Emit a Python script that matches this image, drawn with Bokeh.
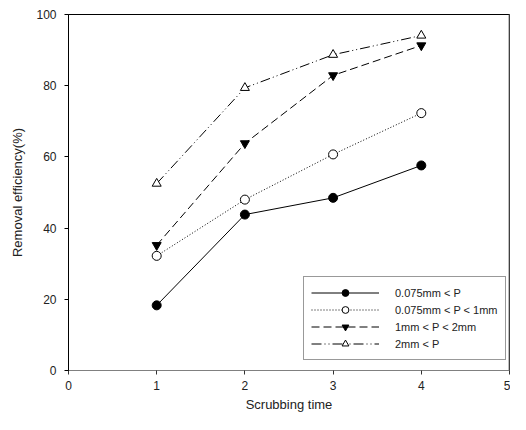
from bokeh.plotting import figure
from bokeh.models import Range1d, Span, Legend, LegendItem, FixedTicker
from bokeh.embed import file_html
from bokeh.resources import INLINE

x = [1, 2, 3, 4]
s1 = [18.3, 43.8, 48.5, 57.6]
s2 = [32.2, 48.0, 60.7, 72.3]
s3 = [35.2, 63.8, 82.9, 91.3]
s4 = [52.5, 79.4, 88.7, 94.1]
labels = ["0.075mm < P", "0.075mm < P < 1mm", "1mm < P < 2mm", "2mm < P"]
x_ticks = [0, 1, 2, 3, 4, 5]
y_ticks = [0, 20, 40, 60, 80, 100]

FONT = "Liberation Sans"

p = figure(width=510, height=414, output_backend="svg", toolbar_location=None,
           x_range=Range1d(0, 5), y_range=Range1d(0, 100),
           min_border_left=68, min_border_right=1, min_border_top=14, min_border_bottom=43)
p.grid.visible = False
p.background_fill_color = "white"
p.border_fill_color = "white"
p.outline_line_color = "black"
p.outline_line_width = 1

for ax in (p.xaxis[0], p.yaxis[0]):
    ax.major_label_text_font = FONT
    ax.major_label_text_font_size = "12px"
    ax.major_label_text_color = "#222222"
    ax.axis_label_text_font = FONT
    ax.axis_label_text_font_size = "13px"
    ax.axis_label_text_font_style = "normal"
    ax.axis_label_text_color = "#222222"
    ax.minor_tick_line_color = None
    ax.major_tick_out = 4
    ax.major_tick_in = 0

p.xaxis[0].ticker = FixedTicker(ticks=x_ticks)
p.yaxis[0].ticker = FixedTicker(ticks=y_ticks)
p.xaxis[0].axis_label = "Scrubbing time"
p.yaxis[0].axis_label = "Removal efficiency(%)"
p.xaxis[0].axis_line_color = "#808080"
p.xaxis[0].major_tick_line_color = "#333333"
p.xaxis[0].major_label_standoff = 6
p.xaxis[0].axis_label_standoff = 4
p.yaxis[0].major_label_standoff = 8
p.yaxis[0].axis_label_standoff = 8

p.add_layout(Span(location=5, dimension="height", line_color="#808080", line_width=2))

l1 = p.line(x, s1, line_color="black", line_width=1)
m1 = p.scatter(x, s1, marker="circle", size=9, fill_color="black", line_color="black")
l2 = p.line(x, s2, line_color="black", line_width=1, line_dash="1 2")
m2 = p.scatter(x, s2, marker="circle", size=9, fill_color="white", line_color="black")
l3 = p.line(x, s3, line_color="black", line_width=1, line_dash="8 4")
m3 = p.scatter(x, s3, marker="inverted_triangle", size=9, fill_color="black", line_color="black")
l4 = p.line(x, s4, line_color="black", line_width=1, line_dash="10 3 1 3 1 3")
m4 = p.scatter(x, s4, marker="triangle", size=9, fill_color="white", line_color="black")

items = [LegendItem(label=labels[0], renderers=[l1, m1]),
         LegendItem(label=labels[1], renderers=[l2, m2]),
         LegendItem(label=labels[2], renderers=[l3, m3]),
         LegendItem(label=labels[3], renderers=[l4, m4])]
legend = Legend(items=items, location=(235, 10), padding=7, margin=0, spacing=0,
                glyph_width=68, glyph_height=17, label_height=17, label_standoff=16,
                label_text_font=FONT, label_text_font_size="11px", label_text_color="#222222",
                border_line_color="#333333", border_line_width=1,
                background_fill_color="white", background_fill_alpha=1)
p.add_layout(legend)

open("out.html", "w").write(file_html(p, INLINE))
